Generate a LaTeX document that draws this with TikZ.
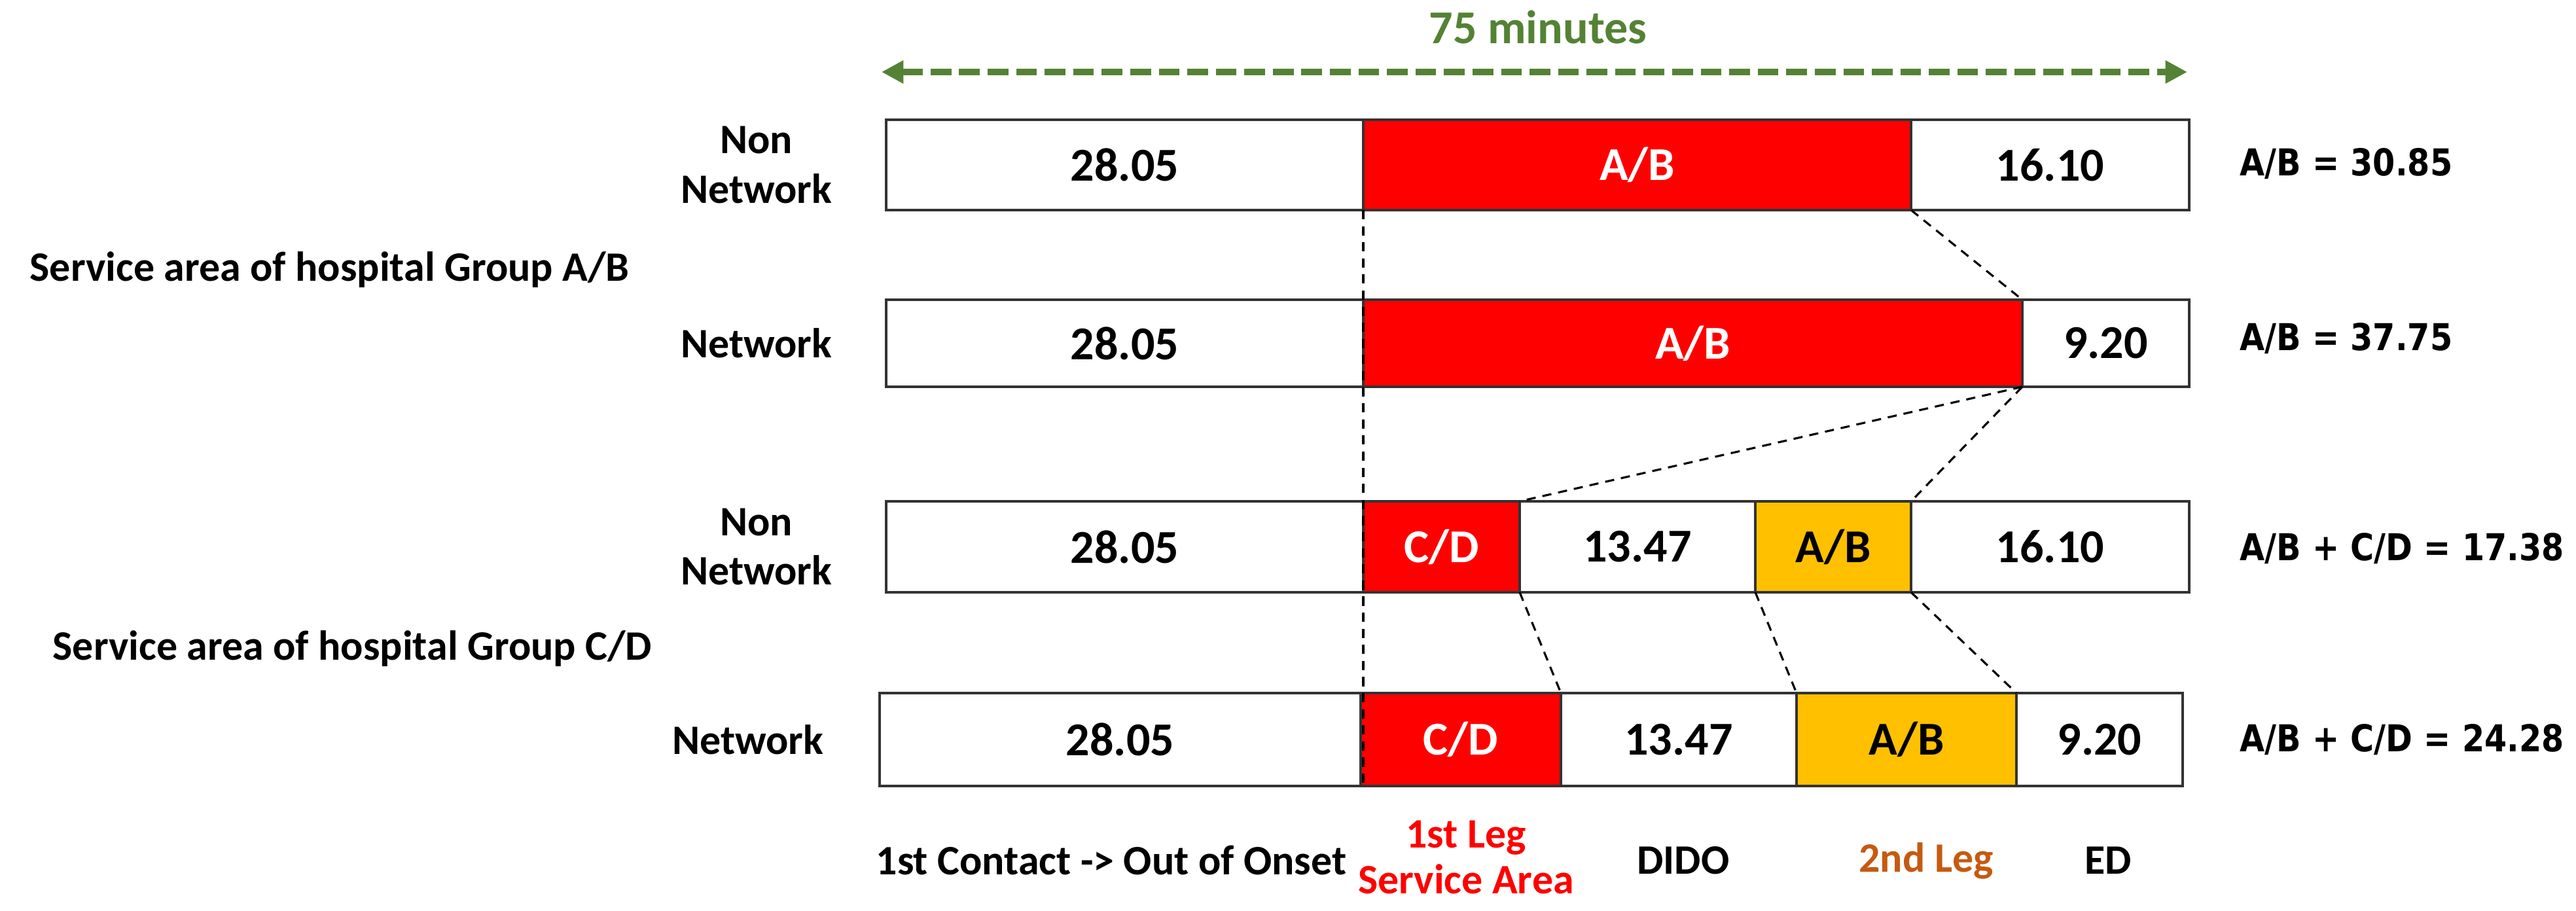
\documentclass[tikz,border=0pt]{standalone}
\usepackage{fontspec}
\setmainfont{Carlito}
\newfontfamily\sumfont{DejaVu Sans}
\usetikzlibrary{arrows.meta}
\definecolor{barred}{RGB}{255,0,0}
\definecolor{barorange}{RGB}{255,192,0}
\definecolor{arrowgreen}{RGB}{84,130,53}
\definecolor{legorange}{RGB}{197,90,17}
\tikzset{
  seg/.style={draw=black!80, line width=1pt, inner sep=0pt, outer sep=0pt, fill=white, text=black,
    anchor=north west, font=\fontsize{20.5}{24}\selectfont\bfseries},
  redseg/.style={seg, fill=barred, text=white},
  orseg/.style={seg, fill=barorange, text=black},
  conn/.style={draw=black, line width=0.9pt, dash pattern=on 4pt off 3pt},
  spanarrow/.style={draw=arrowgreen, line width=2.9pt, dash pattern=on 9pt off 3.4pt,
    {Triangle[length=9.5pt,width=9.5pt]}-{Triangle[length=9.5pt,width=9.5pt]}},
  toptitle/.style={text=arrowgreen, font=\fontsize{20.5}{24}\selectfont\bfseries},
  rowlabel/.style={font=\fontsize{18.2}{21.5}\selectfont\bfseries, align=center, anchor=east, inner sep=0pt},
  grouplabel/.style={font=\fontsize{18.2}{21.5}\selectfont\bfseries, anchor=west, inner sep=0pt},
  sumlabel/.style={font=\sumfont\fontsize{14}{17}\selectfont\bfseries, anchor=west, inner sep=0pt, yscale=1.15},
  botlabel/.style={font=\fontsize{18.2}{20}\selectfont\bfseries, align=center, inner sep=0pt},
}
\begin{document}
\begin{tikzpicture}[x=1cm,y=1cm]
\useasboundingbox (0,0) rectangle (39.36,-13.92);
% top span arrow
\node[toptitle] (ttl) at (23.50,-0.41) {75 minutes};
\coordinate (arL) at (13.47,-1.10);
\coordinate (arR) at (33.42,-1.10);
\draw[spanarrow] (arL) -- (arR);
% row 1
\node[seg, minimum width=7.29cm, minimum height=1.38cm] (r1a) at (13.54,-1.83) {28.05};
\node[redseg, minimum width=8.37cm, minimum height=1.38cm] (r1b) at (20.83,-1.83) {A/B};
\node[seg, minimum width=4.25cm, minimum height=1.38cm] (r1c) at (29.20,-1.83) {16.10};
% row 2
\node[seg, minimum width=7.29cm, minimum height=1.33cm] (r2a) at (13.54,-4.58) {28.05};
\node[redseg, minimum width=10.07cm, minimum height=1.33cm] (r2b) at (20.83,-4.58) {A/B};
\node[seg, minimum width=2.55cm, minimum height=1.33cm] (r2c) at (30.90,-4.58) {9.20};
% row 3
\node[seg, minimum width=7.29cm, minimum height=1.39cm] (r3a) at (13.54,-7.66) {28.05};
\node[redseg, minimum width=2.39cm, minimum height=1.39cm] (r3b) at (20.83,-7.66) {C/D};
\node[seg, minimum width=3.60cm, minimum height=1.39cm] (r3c) at (23.22,-7.66) {13.47};
\node[orseg, minimum width=2.38cm, minimum height=1.39cm] (r3d) at (26.82,-7.66) {A/B};
\node[seg, minimum width=4.25cm, minimum height=1.39cm] (r3e) at (29.20,-7.66) {16.10};
% row 4
\node[seg, minimum width=7.35cm, minimum height=1.42cm] (r4a) at (13.44,-10.59) {28.05};
\node[redseg, minimum width=3.06cm, minimum height=1.42cm] (r4b) at (20.79,-10.59) {C/D};
\node[seg, minimum width=3.60cm, minimum height=1.42cm] (r4c) at (23.85,-10.59) {13.47};
\node[orseg, minimum width=3.36cm, minimum height=1.42cm] (r4d) at (27.45,-10.59) {A/B};
\node[seg, minimum width=2.54cm, minimum height=1.42cm] (r4e) at (30.81,-10.59) {9.20};
% dashed connectors
\draw[conn] (r1b.south west) -- (r1b.south west |- r4b.south);
\draw[conn] (r1b.south east) -- (r2b.north east);
\draw[conn] (r2b.south east) -- (r3b.north east);
\draw[conn] (r2b.south east) -- (r3d.north east);
\draw[conn] (r3b.south east) -- (r4b.north east);
\draw[conn] (r3d.south west) -- (r4d.north west);
\draw[conn] (r3d.south east) -- (r4d.north east);
% left labels
\node[rowlabel] (l1) at (12.72,-2.52) {Non\\Network};
\node[rowlabel] (l2) at (12.72,-5.245) {Network};
\node[rowlabel] (l3) at (12.72,-8.355) {Non\\Network};
\node[rowlabel] (l4) at (12.59,-11.30) {Network};
\node[grouplabel] (gab) at (0.45,-4.12) {Service area of hospital Group A/B};
\node[grouplabel] (gcd) at (0.80,-9.91) {Service area of hospital Group C/D};
% right labels
\node[sumlabel] (s1) at (34.22,-2.50) {A/B = 30.85};
\node[sumlabel] (s2) at (34.22,-5.17) {A/B = 37.75};
\node[sumlabel] (s3) at (34.22,-8.38) {A/B + C/D = 17.38};
\node[sumlabel] (s4) at (34.22,-11.30) {A/B + C/D = 24.28};
% bottom labels
\node[botlabel] (b1) at (16.98,-13.15) {1st Contact -> Out of Onset};
\node[botlabel, text=barred] (b2) at (22.40,-13.10) {1st Leg\\Service Area};
\node[botlabel] (b3) at (25.72,-13.15) {DIDO};
\node[botlabel, text=legorange] (b4) at (29.43,-13.15) {2nd Leg};
\node[botlabel] (b5) at (32.21,-13.15) {ED};
\end{tikzpicture}
\end{document}
